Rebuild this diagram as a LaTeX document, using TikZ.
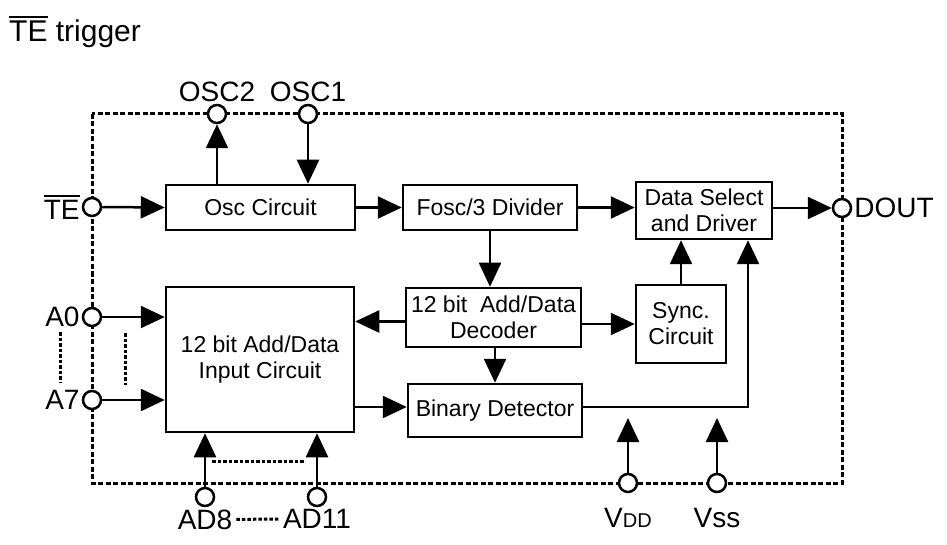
\documentclass[tikz,border=0pt]{standalone}
\usepackage{fontspec}
\setmainfont{Liberation Sans}
\usetikzlibrary{arrows.meta}

\newcommand{\barred}[1]{\vbox{\hrule height 2pt\kern 3pt\hbox{#1}}}

\tikzset{
  block/.style={draw, line width=2.5pt, align=center, inner sep=0pt,
    font=\fontsize{23}{26}\selectfont},
  pin/.style={circle, draw, fill=white, line width=2.5pt, inner sep=0pt,
    minimum size=18pt},
  pinlabel/.style={font=\fontsize{28}{30}\selectfont, inner sep=2pt},
  arr/.style={-{Triangle[length=24pt,width=22pt]}, line width=2.5pt},
  chipedge/.style={line width=3pt, dash pattern=on 5pt off 2.5pt},
  gap/.style={line width=3pt, dash pattern=on 3.5pt off 2pt}
}

\begin{document}
\begin{tikzpicture}[x=1pt, y=-1pt]
        \useasboundingbox (0,0) rectangle (947,545);
        \node[anchor=west, font=\fontsize{30}{32}\selectfont, inner sep=0pt]
        (title) at (9,32) {\barred{TE} trigger};

        % chip outline
        \draw[chipedge] (92,114) rectangle (842,483);

        % blocks
        \node[block, minimum width=189pt, minimum height=45pt] (osc) at (260.5,207.5) {Osc Circuit};
        \node[block, minimum width=174pt, minimum height=45pt] (fosc) at (490,207.5) {Fosc/3 Divider};
        \node[block, minimum width=136pt, minimum height=57pt] (sel) at (704,210.5) {Data Select\\and Driver};
        \node[block, minimum width=175pt, minimum height=59pt] (dec) at (493.5,317.5) {12 bit\ \ Add/Data\\Decoder};
        \node[block, minimum width=90pt, minimum height=78pt] (sync) at (681,324) {Sync.\\Circuit};
        \node[block, minimum width=174pt, minimum height=53pt] (bin) at (495,410.5) {Binary Detector};
        \node[block, minimum width=188pt, minimum height=145pt] (inp) at (260,359.5) {12 bit Add/Data\\Input Circuit};

        % pins
        \node[pin] (te) at (92,207) {};
        \node[pin] (a0) at (92,317) {};
        \node[pin] (a7) at (92,400) {};
        \node[pin] (osc2) at (217,114) {};
        \node[pin] (osc1) at (308,114) {};
        \node[pin] (dout) at (842,208) {};
        \node[pin] (ad8) at (205,497) {};
        \node[pin] (ad11) at (317,497) {};
        \node[pin] (vdd) at (628,483) {};
        \node[pin] (vss) at (717,483) {};
        \coordinate (vddend) at (628,418);
        \coordinate (vssend) at (717,418);

        \node[pinlabel, left] at (te.west) {\barred{TE}};
        \node[pinlabel, left] at (a0.west) {A0};
        \node[pinlabel, left] at (a7.west) {A7};
        \node[pinlabel, above] at (osc2.north) {OSC2};
        \node[pinlabel, above] at (osc1.north) {OSC1};
        \node[pinlabel, right] at (dout.east) {DOUT};
        \node[pinlabel, below] (ad8l) at (ad8.south) {AD8};
        \node[pinlabel, below] (ad11l) at (ad11.south) {AD11};
        \node[pinlabel, below=13pt] at (vdd.south) {V{\fontsize{20}{20}\selectfont DD}};
        \node[pinlabel, below=13pt] at (vss.south) {Vss};

        % signal flow
        \draw[arr] (te.east) -- (osc.west);
        \draw[arr] (osc.north -| osc2) -- (osc2.south);
        \draw[arr] (osc1.south) -- (osc1 |- osc.north);
        \draw[arr] (osc.east) -- (fosc.west);
        \draw[arr] (fosc.east) -- (fosc.east -| sel.west);
        \draw[arr] (sel.east |- dout) -- (dout.west);
        \draw[arr] (fosc.south) -- (fosc.south |- dec.north);
        \draw[arr] ([yshift=-4pt]dec.west) -- ([yshift=-4pt]dec.west -| inp.east);
        \draw[arr] (dec.east |- sync.west) -- (sync.west);
        \draw[arr] (dec.south -| bin.north) -- (bin.north);
        \draw[arr] (sync.north) -- (sync.north |- sel.south);
        \draw[arr] (bin.east |- 0,407) -| ([xshift=44pt]sel.south);
        \draw[arr] (inp.east |- 0,407) -- (bin.west |- 0,407);
        \draw[arr] (a0.east) -- (a0 -| inp.west);
        \draw[arr] (a7.east) -- (a7 -| inp.west);
        \draw[arr] (ad8.north) -- (ad8 |- inp.south);
        \draw[arr] (ad11.north) -- (ad11 |- inp.south);
        \draw[arr] (vdd.north) -- (vddend);
        \draw[arr] (vss.north) -- (vssend);

        % omitted pins
        \draw[gap] (60,332) -- (60,383);
        \draw[gap] (125,333) -- (125,385);
        \draw[gap] (212,461) -- (305,461);
        \draw[gap] ([xshift=2pt]ad8l.east) -- ([xshift=-2pt]ad11l.west);
    \end{tikzpicture}
\end{document}
